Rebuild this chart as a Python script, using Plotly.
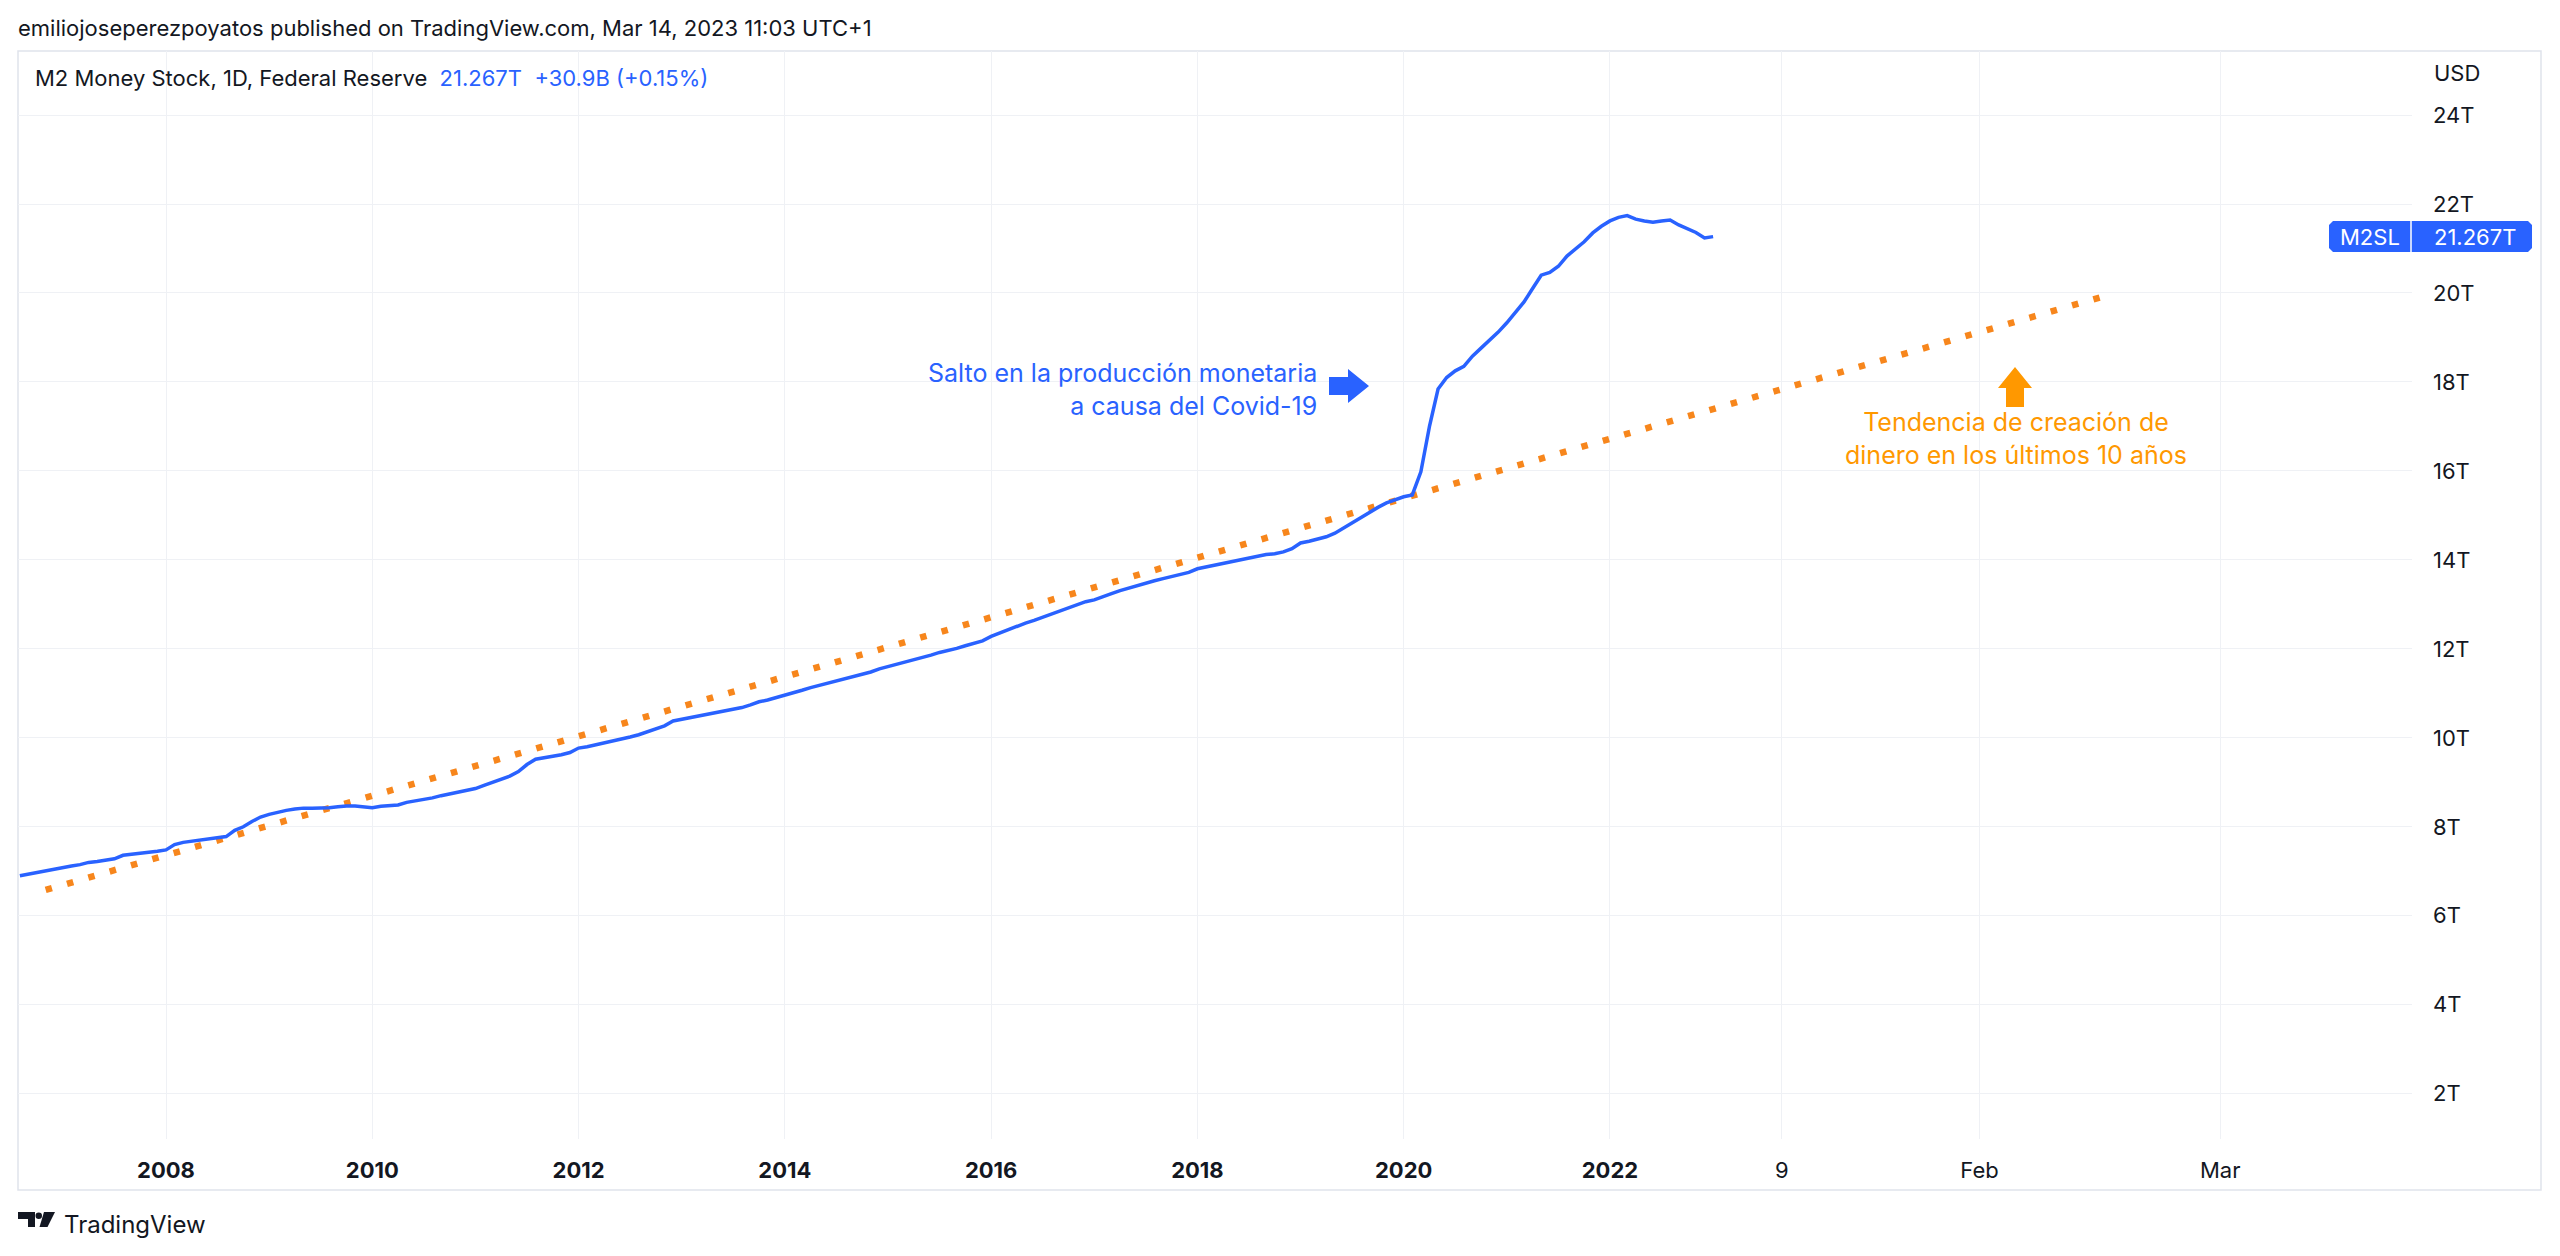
import datetime as dt
import plotly.graph_objects as go

# ---------------- data ----------------
series_start = "2006-08"          # first monthly observation shown
m2_values = [  # M2 Money Stock, trillions USD, monthly (Aug 2006 .. Jan 2023)
    6.90, 6.94, 6.98, 7.02, 7.06,
    7.09, 7.12, 7.15, 7.20, 7.22, 7.25, 7.28, 7.36, 7.38, 7.40, 7.42, 7.45,
    7.48, 7.60, 7.65, 7.68, 7.70, 7.73, 7.75, 7.78, 7.92, 8.00, 8.12, 8.22,
    8.28, 8.33, 8.37, 8.40, 8.42, 8.42, 8.42, 8.43, 8.45, 8.47, 8.47, 8.45,
    8.43, 8.46, 8.47, 8.49, 8.55, 8.58, 8.61, 8.65, 8.70, 8.74, 8.77, 8.81,
    8.86, 8.93, 9.00, 9.07, 9.14, 9.24, 9.40, 9.52, 9.55, 9.58, 9.62, 9.67,
    9.77, 9.80, 9.84, 9.88, 9.92, 9.97, 10.02, 10.07, 10.13, 10.20, 10.27, 10.38,
    10.42, 10.45, 10.48, 10.52, 10.56, 10.60, 10.64, 10.68, 10.74, 10.81, 10.85, 10.90,
    10.95, 11.02, 11.07, 11.13, 11.18, 11.22, 11.28, 11.32, 11.37, 11.43, 11.48, 11.55,
    11.60, 11.66, 11.70, 11.74, 11.80, 11.86, 11.92, 11.96, 12.01, 12.07, 12.12, 12.18,
    12.28, 12.36, 12.44, 12.52, 12.58, 12.64, 12.71, 12.78, 12.85, 12.92, 13.00, 13.06,
    13.10, 13.16, 13.24, 13.31, 13.37, 13.43, 13.48, 13.53, 13.58, 13.62, 13.68, 13.72,
    13.80, 13.84, 13.87, 13.91, 13.95, 14.00, 14.04, 14.08, 14.12, 14.14, 14.18, 14.25,
    14.38, 14.42, 14.46, 14.52, 14.60, 14.72, 14.84, 14.95, 15.08, 15.18, 15.28, 15.36,
    15.42, 15.46, 15.98, 17.00, 17.84, 18.10, 18.25, 18.35, 18.58, 18.76, 18.94, 19.12,
    19.33, 19.56, 19.80, 20.10, 20.40, 20.46, 20.60, 20.83, 21.00, 21.15, 21.35, 21.50,
    21.62, 21.70, 21.74, 21.66, 21.62, 21.59, 21.62, 21.64, 21.53, 21.45, 21.36, 21.2361,
    21.267,
]

trend_dates = ["2006-11-01", "2023-02-15"]   # hand-drawn trend line anchors
trend_values = [6.58, 19.90]

x_tick_dates = ["2008-01-01", "2010-01-01", "2012-01-01", "2014-01-01", "2016-01-01",
                "2018-01-01", "2020-01-01", "2022-01-01", "2023-01-09", "2023-02-01",
                "2023-03-01"]
x_tick_labels = ["<b>2008</b>", "<b>2010</b>", "<b>2012</b>", "<b>2014</b>", "<b>2016</b>",
                 "<b>2018</b>", "<b>2020</b>", "<b>2022</b>", "9", "Feb", "Mar"]
y_tick_values = [2, 4, 6, 8, 10, 12, 14, 16, 18, 20, 22, 24]
y_tick_labels = ["2T", "4T", "6T", "8T", "10T", "12T", "14T", "16T", "18T", "20T", "22T", "24T"]

# ---------------- bar-index time scale (monthly bars, daily future bars) ----------------
y0, m0 = map(int, series_start.split("-"))
month_dates = []
for i in range(len(m2_values)):
    mm = m0 - 1 + i
    month_dates.append(dt.date(y0 + mm // 12, mm % 12 + 1, 1))
last_idx = len(m2_values) - 1
last_date = month_dates[-1]


def to_pos(s):
    d = dt.date.fromisoformat(s)
    if d <= last_date:
        base = max(i for i, md in enumerate(month_dates) if md <= d)
        nxt = month_dates[base + 1] if base + 1 < len(month_dates) else None
        frac = 0.0
        if nxt is not None:
            frac = (d - month_dates[base]).days / (nxt - month_dates[base]).days
        return base + frac
    return last_idx + (d - last_date).days


x_pos = list(range(len(m2_values)))

# ---------------- geometry helpers (pixel -> paper) ----------------
W, H = 2560, 1256
PL, PR, PT, PB = 18, 2412, 51, 1139


def px(x):
    return (x - PL) / (PR - PL)


def py(y):
    return (PB - y) / (PB - PT)


def path(points):
    return "M " + " L ".join(f"{px(a):.5f},{py(b):.5f}" for a, b in points) + " Z"


BLUE = "#2962FF"
ORANGE_TXT = "#FF9800"
ORANGE_LINE = "#F7861C"
TXT = "#131722"
GRID = "#EFF1F5"
FONT = "Inter, Roboto, sans-serif"
SMALL = 22
NOTE = 25

fig = go.Figure()
fig.add_trace(go.Scatter(
    x=[to_pos(d) for d in trend_dates], y=trend_values, mode="lines",
    line=dict(color=ORANGE_LINE, width=6.5, dash="6.5px,15.7px"),
    hoverinfo="skip", showlegend=False,
))
fig.add_trace(go.Scatter(
    x=x_pos, y=m2_values, mode="lines",
    line=dict(color=BLUE, width=3.5),
    hoverinfo="skip", showlegend=False,
))

jan_pos = to_pos("2008-01-01")
x_range = [jan_pos - (166 - PL) / 8.595, jan_pos + (PR - 166) / 8.595]
y_range = [(1182.7 - PB) / 44.486, (1182.7 - PT) / 44.486]

fig.update_layout(
    width=W, height=H,
    margin=dict(l=PL, r=W - PR, t=PT, b=H - PB, pad=0),
    paper_bgcolor="white", plot_bgcolor="white",
    font=dict(family=FONT, size=SMALL, color=TXT),
    xaxis=dict(
        range=x_range, tickmode="array",
        tickvals=[to_pos(d) for d in x_tick_dates], ticktext=x_tick_labels,
        showgrid=True, gridcolor=GRID, gridwidth=1, zeroline=False, showline=False,
        ticks="", ticklabelstandoff=16, tickfont=dict(size=SMALL, color=TXT),
        fixedrange=True,
    ),
    yaxis=dict(
        range=y_range, side="right", tickmode="array",
        tickvals=y_tick_values, ticktext=y_tick_labels,
        showgrid=True, gridcolor=GRID, gridwidth=1, zeroline=False, showline=False,
        ticks="", ticklabelstandoff=20, tickfont=dict(size=SMALL, color=TXT),
        fixedrange=True,
    ),
    showlegend=False,
)

last = m2_values[-1]
prev = m2_values[-2]
chg_b = (last - prev) * 1000
chg_pct = (last - prev) / prev * 100
nb = "\u00a0"

annotations = [
    dict(x=px(16), y=py(28), xref="paper", yref="paper", xanchor="left", yanchor="middle",
         text="emiliojoseperezpoyatos published on TradingView.com, Mar 14, 2023 11:03 UTC+1",
         showarrow=False, font=dict(size=SMALL, color=TXT)),
    dict(x=px(33), y=py(78), xref="paper", yref="paper", xanchor="left", yanchor="middle",
         text=(f"M2 Money Stock, 1D, Federal Reserve{nb}{nb}"
               f"<span style='color:{BLUE}'>{last:.3f}T{nb}{nb}+{chg_b:.1f}B (+{chg_pct:.2f}%)</span>"),
         showarrow=False, font=dict(size=SMALL, color=TXT)),
    dict(x=px(2432), y=py(73), xref="paper", yref="paper", xanchor="left", yanchor="middle",
         text="USD", showarrow=False, font=dict(size=SMALL, color=TXT)),
    dict(x=px(2370), y=py(236.5), xref="paper", yref="paper", xanchor="center", yanchor="middle",
         text="M2SL", showarrow=False, font=dict(size=SMALL, color="white")),
    dict(x=px(2432), y=py(236.5), xref="paper", yref="paper", xanchor="left", yanchor="middle",
         text=f"{last:.3f}T", showarrow=False, font=dict(size=SMALL, color="white")),
    dict(x=px(1319), y=py(389), xref="paper", yref="paper", xanchor="right", yanchor="middle",
         align="right", text="Salto en la producción monetaria<br>a causa del Covid-19",
         showarrow=False, font=dict(size=NOTE, color=BLUE)),
    dict(x=px(2016), y=py(439), xref="paper", yref="paper", xanchor="center", yanchor="middle",
         align="center", text="Tendencia de creación de<br>dinero en los últimos 10 años",
         showarrow=False, font=dict(size=NOTE, color=ORANGE_TXT)),
    dict(x=px(62), y=py(1224), xref="paper", yref="paper", xanchor="left", yanchor="middle",
         text="TradingView", showarrow=False, font=dict(size=24, color=TXT)),
]
fig.update_layout(annotations=annotations)

shapes = [
    # chart frame
    dict(type="rect", xref="paper", yref="paper", x0=px(18), x1=px(2541), y0=py(1190), y1=py(51),
         line=dict(color="#E0E3EB", width=1.5), fillcolor="rgba(0,0,0,0)", layer="below"),
    # price label box
    dict(type="path", xref="paper", yref="paper",
         path=path([(2333, 221), (2528, 221), (2532, 225), (2532, 248), (2528, 252),
                    (2333, 252), (2329, 248), (2329, 225)]),
         fillcolor=BLUE, line=dict(width=0)),
    dict(type="line", xref="paper", yref="paper", x0=px(2411), x1=px(2411), y0=py(221), y1=py(252),
         line=dict(color="white", width=1.5)),
    # blue arrow (right)
    dict(type="path", xref="paper", yref="paper",
         path=path([(1329, 377), (1348, 377), (1348, 369), (1369, 386), (1348, 403), (1348, 395), (1329, 395)]),
         fillcolor=BLUE, line=dict(width=0)),
    # orange arrow (up)
    dict(type="path", xref="paper", yref="paper",
         path=path([(2006, 407), (2006, 388), (1998, 388), (2015, 367), (2032, 388), (2024, 388), (2024, 407)]),
         fillcolor=ORANGE_TXT, line=dict(width=0)),
    # TradingView logo
    dict(type="path", xref="paper", yref="paper",
         path=path([(18, 1212), (35, 1212), (35, 1227), (28, 1227), (28, 1219), (18, 1219)]),
         fillcolor=TXT, line=dict(width=0)),
    dict(type="circle", xref="paper", yref="paper", x0=px(35.5), x1=px(42), y0=py(1219), y1=py(1212.5),
         fillcolor=TXT, line=dict(width=0)),
    dict(type="path", xref="paper", yref="paper",
         path=path([(44, 1212), (55, 1212), (47.5, 1227), (39.5, 1227)]),
         fillcolor=TXT, line=dict(width=0)),
]
fig.update_layout(shapes=shapes)

fig.write_html(
    "out.html",
    config={"displayModeBar": False},
    post_script="document.body.style.margin='0';document.body.style.padding='0';"
                "document.body.style.overflow='hidden';",
)
